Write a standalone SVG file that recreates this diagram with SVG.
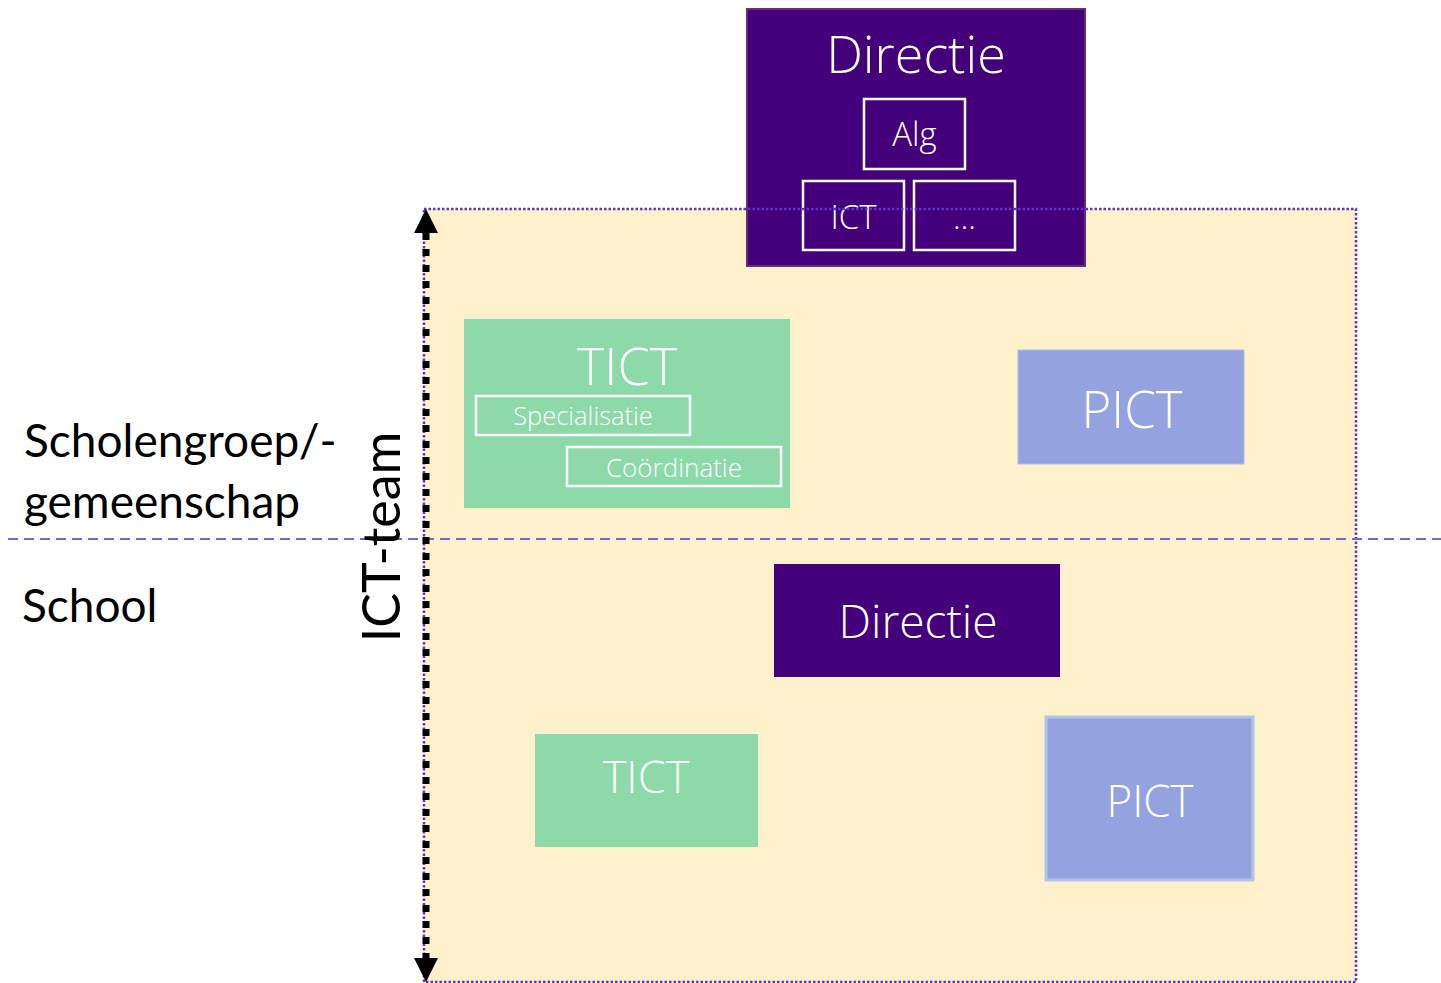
<svg xmlns="http://www.w3.org/2000/svg" width="1441" height="983" viewBox="0 0 1441 983">
<style>
.lbl{font-family:Lato,"Open Sans",sans-serif;fill:#000}
.wt{font-family:"Open Sans","Noto Sans",sans-serif;font-weight:300;fill:#fff;text-anchor:middle}
.sub{fill:none;stroke:#fff;stroke-width:2.5}
.dir{fill:#43007A}
.tict{fill:#8DD9AA}
.pict{fill:#94A3E0}
</style>
<rect id="bg" x="424" y="209" width="932" height="773" fill="#FEF0CA"/>
<g id="directie-top">
<rect class="dir" x="747" y="9" width="338" height="257" stroke="#6A2A7C" stroke-width="2"/>
<text class="wt" x="916" y="73" font-size="52">Directie</text>
</g>
<g id="alg">
<rect class="sub" x="864" y="99" width="101" height="70"/>
<text class="wt" x="914.5" y="146" font-size="33">Alg</text>
</g>
<g id="ict">
<rect class="sub" x="803" y="181" width="101" height="69"/>
<text class="wt" x="853.5" y="229" font-size="33">ICT</text>
</g>
<g id="etc">
<rect class="sub" x="914" y="181" width="101" height="69"/>
<text class="wt" x="964.5" y="229" font-size="32">…</text>
</g>
<rect id="bg-border" x="424" y="209" width="932" height="773" fill="none" stroke="#5B35CF" stroke-width="2.5" stroke-dasharray="2.5 2"/>
<line id="divider" x1="8" y1="539" x2="1441" y2="539" stroke="#7B61D8" stroke-width="2" stroke-dasharray="10 6"/>
<g id="tict-top">
<rect class="tict" x="464" y="319" width="326" height="189"/>
<text class="wt" x="627" y="385" font-size="52">TICT</text>
</g>
<g id="specialisatie">
<rect class="sub" x="476" y="396" width="214" height="39"/>
<text class="wt" x="583" y="425" font-size="25.5">Specialisatie</text>
</g>
<g id="coordinatie">
<rect class="sub" x="567" y="447" width="214" height="39"/>
<text class="wt" x="674" y="477" font-size="26">Coördinatie</text>
</g>
<g id="pict-top">
<rect class="pict" x="1018" y="350" width="226" height="114" stroke="#B0BCE8" stroke-width="1"/>
<text class="wt" x="1132" y="428" font-size="51">PICT</text>
</g>
<g id="directie-school">
<rect class="dir" x="774" y="564" width="286" height="113"/>
<text class="wt" x="918" y="638" font-size="46">Directie</text>
</g>
<g id="tict-school">
<rect class="tict" x="535" y="734" width="223" height="113"/>
<text class="wt" x="646" y="793" font-size="45">TICT</text>
</g>
<g id="pict-school">
<rect class="pict" x="1046" y="717" width="207" height="163" stroke="#B2C4EC" stroke-width="3"/>
<text class="wt" x="1150" y="817" font-size="44">PICT</text>
</g>
<g id="labels">
<text class="lbl" x="24" y="457" font-size="46">Scholengroep/-</text>
<text class="lbl" x="24" y="518" font-size="46">gemeenschap</text>
<text class="lbl" x="22" y="622" font-size="46">School</text>
<text class="lbl" transform="translate(400,537) rotate(-90)" text-anchor="middle" font-size="52">ICT-team</text>
</g>
<g id="connectors">
<line x1="426" y1="233" x2="426" y2="958" stroke="#000" stroke-width="7" stroke-dasharray="7 9"/>
<path d="M426,209 L438,233 L414,233 Z M426,982 L438,958 L414,958 Z" fill="#000"/>
</g>
</svg>
